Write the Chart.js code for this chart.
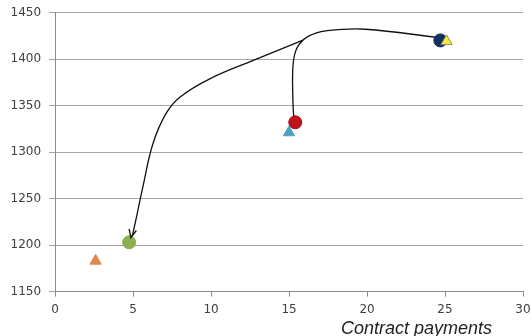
<!DOCTYPE html>
<html>
<head>
<meta charset="utf-8">
<script src="https://cdn.jsdelivr.net/npm/chart.js@4"></script>
<style>
  body { margin: 0; background: #fff; }
  #wrap { position: relative; width: 531px; height: 336px; overflow: hidden; }
  #xtitle {
    position: absolute; left: 341px; top: 319px;
    font: italic 18px "Liberation Sans", Arial, sans-serif; color: #222;
    white-space: nowrap; line-height: 18px;
  }
</style>
</head>
<body>
<div id="wrap">
  <canvas id="chart" width="531" height="336"></canvas>
  <div id="xtitle">Contract payments</div>
</div>
<script>
// markers
const markerX = [2.6, 4.75, 15.0, 15.4, 24.7, 25.1];
const markerY = [1183, 1203, 1321, 1332, 1420, 1419];

// curve from the top point down to the red circle
const curveRedX = [24.64, 19.9, 17.95, 17.05, 16.4, 15.9, 15.45, 15.25, 15.25, 15.3];
const curveRedY = [1423, 1432, 1431.3, 1429.5, 1425.8, 1420.4, 1409.6, 1391.6, 1355.5, 1338];

// curve with arrow down to the green circle
const curveGreenX = [15.9, 12.75, 9.95, 8.0, 7.1, 6.27, 5.62, 4.97, 4.86];
const curveGreenY = [1420.4, 1398.8, 1379, 1359, 1341, 1308.7, 1261.8, 1211.3, 1208];

const xMin = 0, xMax = 30, xStep = 5;
const yMin = 1150, yMax = 1450, yStep = 50;

const markerStyles = [
    { shape: 'triangle', fill: '#E0884A', border: '#E0884A', r: 6.5 },
    { shape: 'circle', fill: '#8DB04E', border: '#8DB04E', r: 6.5 },
    { shape: 'triangle', fill: '#4BA3BE', border: '#4BA3BE', r: 6.5 },
    { shape: 'circle', fill: '#C0141A', border: '#A01015', r: 6.5 },
    { shape: 'circle', fill: '#14305E', border: '#14305E', r: 6.5 },
    { shape: 'triangle', fill: '#F7E83A', border: '#8C8C6A', r: 6.5 }
];

const zip = (xs, ys) => xs.map((x, i) => ({ x: x, y: ys[i] }));

const datasets = [];
datasets.push({
    data: zip(curveRedX, curveRedY), showLine: true, tension: 0.4,
    borderColor: '#111', borderWidth: 1.3, pointRadius: 0, order: 20
});
datasets.push({
    data: zip(curveGreenX, curveGreenY), showLine: true, tension: 0.4,
    borderColor: '#111', borderWidth: 1.3, pointRadius: 0, order: 20, arrow: true
});
markerX.forEach((x, i) => {
    const s = markerStyles[i];
    datasets.push({
        data: [{ x: x, y: markerY[i] }],
        pointStyle: s.shape, pointRadius: s.r,
        backgroundColor: s.fill, borderColor: s.border, borderWidth: 1,
        order: 10 - i
    });
});

const arrowHead = {
    id: 'arrowHead',
    afterDatasetsDraw(chart) {
        const ctx = chart.ctx;
        chart.data.datasets.forEach((ds, i) => {
            if (!ds.arrow) return;
            const pts = chart.getDatasetMeta(i).data;
            const a = pts[pts.length - 3], b = pts[pts.length - 1];
            const ang = Math.atan2(b.y - a.y, b.x - a.x);
            const len = 9, spread = 0.42;
            ctx.save();
            ctx.strokeStyle = '#111';
            ctx.lineWidth = 1.3;
            ctx.beginPath();
            ctx.moveTo(b.x - len * Math.cos(ang - spread), b.y - len * Math.sin(ang - spread));
            ctx.lineTo(b.x, b.y);
            ctx.lineTo(b.x - len * Math.cos(ang + spread), b.y - len * Math.sin(ang + spread));
            ctx.stroke();
            ctx.restore();
        });
    }
};

const tickFont = { family: 'DejaVu Sans', size: 12 };

new Chart(document.getElementById('chart'), {
    type: 'scatter',
    data: { datasets: datasets },
    options: {
        responsive: false,
        animation: false,
        layout: { padding: { left: 2.5, top: 12.5, right: 0, bottom: 13 } },
        plugins: { legend: { display: false }, tooltip: { enabled: false } },
        scales: {
            x: {
                min: xMin, max: xMax,
                ticks: { stepSize: xStep, color: '#404040', font: tickFont, padding: 6, maxRotation: 0 },
                grid: { drawOnChartArea: false, drawTicks: true, tickLength: 5, color: '#8a8a8a' },
                border: { color: '#8a8a8a' },
                afterFit: scale => { scale.paddingRight = 8; }
            },
            y: {
                min: yMin, max: yMax,
                ticks: { stepSize: yStep, color: '#404040', font: tickFont, padding: 8,
                    callback: v => String(v) },
                grid: { color: '#a6a6a6', tickLength: 6 },
                border: { color: '#8a8a8a' },
                afterFit: scale => { scale.paddingTop = 0; }
            }
        }
    },
    plugins: [arrowHead]
});
</script>
</body>
</html>
